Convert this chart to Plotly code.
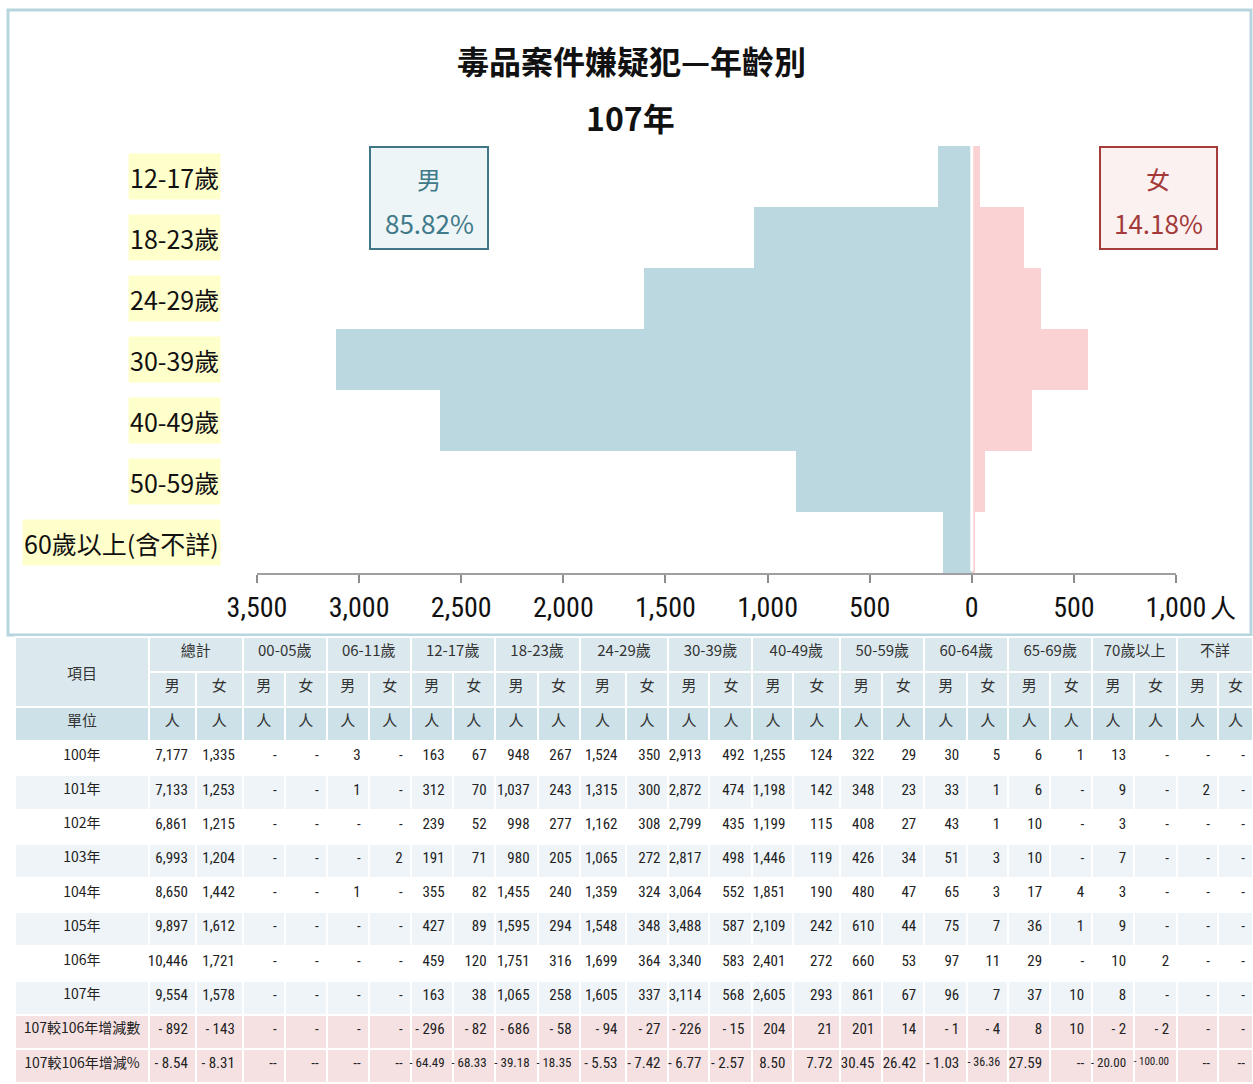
import plotly.graph_objects as go

# ---- chart data (107年) ----
age_groups = ['12-17歲', '18-23歲', '24-29歲', '30-39歲', '40-49歲', '50-59歲', '60歲以上(含不詳)']
male_107 = [163, 1065, 1605, 3114, 2605, 861, 141]
female_107 = [38, 258, 337, 568, 293, 67, 17]

x_ticks = [-3500, -3000, -2500, -2000, -1500, -1000, -500, 0, 500, 1000]
x_tick_labels = ['3,500', '3,000', '2,500', '2,000', '1,500', '1,000', '500', '0', '500', '1,000']

# ---- table data ----
table_groups = ['總計', '00-05歲', '06-11歲', '12-17歲', '18-23歲', '24-29歲', '30-39歲',
                '40-49歲', '50-59歲', '60-64歲', '65-69歲', '70歲以上', '不詳']
row_labels = ['100年', '101年', '102年', '103年', '104年', '105年', '106年', '107年',
              '107較106年增減數']
pct_label = '107較106年增減%'
# 男, 女 pairs: 總計, 00-05, 06-11, 12-17, 18-23, 24-29, 30-39, 40-49, 50-59, 60-64, 65-69, 70+, 不詳
y100 = [7177, 1335, 0, 0, 3, 0, 163, 67, 948, 267, 1524, 350, 2913, 492, 1255, 124, 322, 29, 30, 5, 6, 1, 13, 0, 0, 0]
y101 = [7133, 1253, 0, 0, 1, 0, 312, 70, 1037, 243, 1315, 300, 2872, 474, 1198, 142, 348, 23, 33, 1, 6, 0, 9, 0, 2, 0]
y102 = [6861, 1215, 0, 0, 0, 0, 239, 52, 998, 277, 1162, 308, 2799, 435, 1199, 115, 408, 27, 43, 1, 10, 0, 3, 0, 0, 0]
y103 = [6993, 1204, 0, 0, 0, 2, 191, 71, 980, 205, 1065, 272, 2817, 498, 1446, 119, 426, 34, 51, 3, 10, 0, 7, 0, 0, 0]
y104 = [8650, 1442, 0, 0, 1, 0, 355, 82, 1455, 240, 1359, 324, 3064, 552, 1851, 190, 480, 47, 65, 3, 17, 4, 3, 0, 0, 0]
y105 = [9897, 1612, 0, 0, 0, 0, 427, 89, 1595, 294, 1548, 348, 3488, 587, 2109, 242, 610, 44, 75, 7, 36, 1, 9, 0, 0, 0]
y106 = [10446, 1721, 0, 0, 0, 0, 459, 120, 1751, 316, 1699, 364, 3340, 583, 2401, 272, 660, 53, 97, 11, 29, 0, 10, 2, 0, 0]
y107 = [9554, 1578, 0, 0, 0, 0, 163, 38, 1065, 258, 1605, 337, 3114, 568, 2605, 293, 861, 67, 96, 7, 37, 10, 8, 0, 0, 0]
diff_107 = [-892, -143, 0, 0, 0, 0, -296, -82, -686, -58, -94, -27, -226, -15, 204, 21, 201, 14, -1, -4, 8, 10, -2, -2, 0, 0]
pct_107 = [-8.54, -8.31, None, None, None, None, -64.49, -68.33, -39.18, -18.35, -5.53, -7.42, -6.77, -2.57,
           8.50, 7.72, 30.45, 26.42, -1.03, -36.36, 27.59, None, -20.00, -100.00, None, None]

W, H = 1253, 1084


def px(x):
    return x / W


def py(y):
    return 1 - y / H


def fmt_int(v):
    if v == 0:
        return '-'
    if v < 0:
        return '-\u00a0' + f'{-v:,}'
    return f'{v:,}'


def fmt_pct(v):
    if v is None:
        return '--'
    if v < 0:
        return '-\u00a0' + f'{-v:.2f}'
    return f'{v:.2f}'


# rough glyph widths (em) for Roboto Condensed; plotly clips cell text at the column edge
CHAR_EM = {',': 0.2, '.': 0.22, '-': 0.27, '\u00a0': 0.22}


def fit_size(texts, col_w, size=15):
    em = max(sum(CHAR_EM.get(c, 0.49) for c in t) for t in texts)
    while size > 10 and em * size > col_w - 7:
        size -= 1
    return size


CJK = 'Noto Sans CJK TC, Noto Sans CJK SC, sans-serif'
NARROW = 'Roboto Condensed, Liberation Sans, sans-serif'

male_share = y107[0] / (y107[0] + y107[1]) * 100
female_share = y107[1] / (y107[0] + y107[1]) * 100

fig = go.Figure()

fig.add_trace(go.Bar(
    y=age_groups, x=[-v for v in male_107], orientation='h', width=1,
    marker=dict(color='#bbd7df', line=dict(width=0)), name='男',
    customdata=male_107, hovertemplate='%{y} 男 %{customdata:,}人<extra></extra>'))
fig.add_trace(go.Bar(
    y=age_groups, x=female_107, orientation='h', width=1,
    marker=dict(color='#fad2d3', line=dict(width=0)), name='女',
    hovertemplate='%{y} 女 %{x:,}人<extra></extra>'))

# ---- table ----
group_widths = [134, 94, 84, 84, 84, 85, 89, 84, 88, 84, 84, 84, 85, 76]
col_widths = [134, 47, 47, 42, 42, 42, 42, 42, 42, 43, 42, 46, 43, 41, 43, 41, 47,
              42, 42, 43, 41, 42, 42, 42, 43, 41, 35]
ROW_H = 34.2
header_font = dict(family=CJK, size=15, color='#333333')

fig.add_trace(go.Table(
    domain=dict(x=[px(15), 1], y=[py(672), py(637)]),
    columnwidth=group_widths,
    header=dict(values=[''] + table_groups, height=35, fill_color='#dbe9ee',
                line=dict(color='white', width=2), align='center', font=header_font),
    cells=dict(values=[[] for _ in group_widths], height=0)))

fig.add_trace(go.Table(
    domain=dict(x=[px(15), 1], y=[py(707), py(672)]),
    columnwidth=col_widths,
    header=dict(values=[''] + ['男', '女'] * 13, height=35, fill_color='#dbe9ee',
                line=dict(color='white', width=2), align='center', font=header_font),
    cells=dict(values=[[] for _ in col_widths], height=0)))

year_rows = [y100, y101, y102, y103, y104, y105, y106, y107]
columns = [row_labels]
for j in range(26):
    col = [fmt_int(r[j]) for r in year_rows]
    col.append(fmt_int(diff_107[j]))
    columns.append(col)
body_sizes = [14] + [fit_size(c, col_widths[i + 1]) for i, c in enumerate(columns[1:])]

row_fill = ['white', '#eef4f8'] * 4 + ['#f5e1e2']
body_bottom = 707 + ROW_H * 10 + 0.5
fig.add_trace(go.Table(
    domain=dict(x=[px(15), 1], y=[py(body_bottom), py(707)]),
    columnwidth=col_widths,
    header=dict(values=['單位'] + ['人'] * 26, height=ROW_H, fill_color='#cde1e8',
                line=dict(color='white', width=2), align='center', font=header_font),
    cells=dict(values=columns, height=ROW_H,
               fill_color=[row_fill] * 27,
               line=dict(color='white', width=2),
               align=['center'] + ['right'] * 26,
               font=dict(family=[CJK] + [NARROW] * 26, size=body_sizes, color='#222222'))))

# last row (增減%) as its own strip so each column can shrink to fit
pct_texts = [fmt_pct(v) for v in pct_107]
pct_sizes = [14] + [fit_size([t], col_widths[i + 1]) for i, t in enumerate(pct_texts)]
fig.add_trace(go.Table(
    domain=dict(x=[px(15), 1], y=[0, py(body_bottom - 0.5)]),
    columnwidth=col_widths,
    header=dict(values=[pct_label] + pct_texts, height=ROW_H, fill_color='#f5e1e2',
                line=dict(color='white', width=2), align=['center'] + ['right'] * 26,
                font=dict(family=[CJK] + [NARROW] * 26, size=pct_sizes, color='#222222')),
    cells=dict(values=[[] for _ in col_widths], height=0)))

shapes = [
    # chart frame
    dict(type='rect', xref='paper', yref='paper', x0=px(8), x1=px(1251), y0=py(635), y1=py(10),
         line=dict(color='#b7d5df', width=3), fillcolor='rgba(0,0,0,0)', layer='below'),
    # white divider at zero
    dict(type='line', xref='x', yref='y domain', x0=0, x1=0, y0=0.004, y1=1,
         line=dict(color='white', width=3), layer='above'),
    # 男 / 女 boxes
    dict(type='rect', xref='paper', yref='paper', x0=px(370), x1=px(488), y0=py(249), y1=py(147),
         line=dict(color='#3f7786', width=2), fillcolor='#eef5f7', layer='above'),
    dict(type='rect', xref='paper', yref='paper', x0=px(1100), x1=px(1217), y0=py(249), y1=py(147),
         line=dict(color='#a53b3b', width=2), fillcolor='#fbf1f1', layer='above'),
    # merged 項目 cell
    dict(type='rect', xref='paper', yref='paper', x0=px(15), x1=px(149), y0=py(707), y1=py(637),
         line=dict(color='white', width=2), fillcolor='#dbe9ee', layer='above'),
]


def label(text, x, y, size, color, bold=False):
    if bold:
        text = f'<b>{text}</b>'
    return dict(text=text, x=px(x), y=py(y), xref='paper', yref='paper', showarrow=False,
                xanchor='center', yanchor='middle', font=dict(family=CJK, size=size, color=color))


annotations = [
    label('毒品案件嫌疑犯—年齡別', 631, 60, 32, '#111111', bold=True),
    label('107年', 630, 117, 32, '#111111', bold=True),
    label('男', 429, 178, 24, '#3f7a8a'),
    label(f'{male_share:.2f}%', 429, 222, 26, '#3f7a8a'),
    label('女', 1158, 178, 24, '#a33a3a'),
    label(f'{female_share:.2f}%', 1158, 222, 26, '#a33a3a'),
    label('人', 1223, 606, 26, '#111111'),
    label('項目', 82, 672, 15, '#333333'),
]
for g in age_groups:
    annotations.append(dict(text=g, x=px(221), y=g, xref='paper', yref='y',
                            xanchor='right', yanchor='middle',
                            showarrow=False, bgcolor='#ffffcc', borderpad=1, height=43,
                            font=dict(family=CJK, size=25, color='#111111')))

fig.update_layout(
    width=W, height=H,
    margin=dict(l=0, r=0, t=0, b=0, pad=0, autoexpand=False),
    paper_bgcolor='white', plot_bgcolor='white',
    showlegend=False, barmode='overlay', bargap=0,
    xaxis=dict(domain=[px(257), px(1176)], range=[-3500, 1000], tickvals=x_ticks,
               ticktext=x_tick_labels, showgrid=False, zeroline=False, automargin=False,
               showline=True, linecolor='#a0a0a0', linewidth=2,
               ticks='outside', ticklen=8, tickwidth=2, tickcolor='#8c8c8c',
               ticklabelstandoff=0,
               tickfont=dict(family=NARROW, size=28, color='#111111'), fixedrange=True),
    yaxis=dict(domain=[py(573), py(146)], categoryorder='array', categoryarray=age_groups,
               autorange='reversed', showticklabels=False, showgrid=False, automargin=False,
               zeroline=False, showline=False, fixedrange=True),
    shapes=shapes,
    annotations=annotations,
)

fig.write_html('out.html', config={'displayModeBar': False},
               post_script="document.body.style.margin='0';")
